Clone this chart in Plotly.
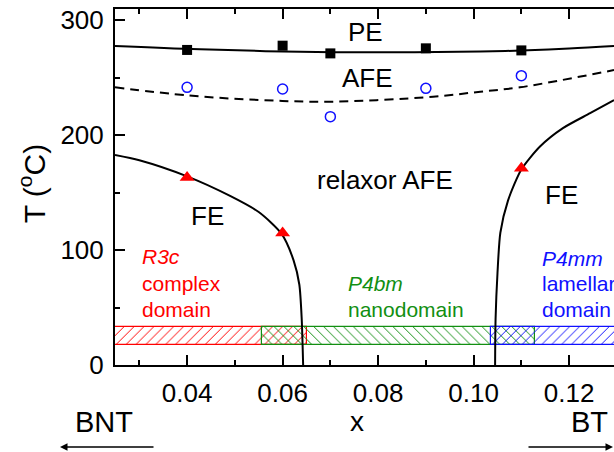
import plotly.graph_objects as go

# ---- data ----
x_pts = [0.04, 0.06, 0.07, 0.09, 0.11]
T_PE = [274, 277.7, 271, 275.4, 273.6]
T_AFE = [241.5, 240, 216, 240.6, 251.6]
x_tri = [0.04, 0.06, 0.11]
T_tri = [163, 114.8, 171]

pe_line_x = [0.0249, 0.0427, 0.0637, 0.0846, 0.1014, 0.1100, 0.1200, 0.1294]
pe_line_T = [277.4, 274.5, 272.4, 271.9, 272.6, 273.5, 275.2, 277.4]

afe_line_x = [0.0249, 0.040, 0.055, 0.070, 0.0915, 0.1014, 0.1097, 0.1294]
afe_line_T = [241.5, 234.5, 230.5, 229.0, 233.3, 237.7, 241.5, 256.5]

fe_left_x = [0.0249, 0.030, 0.040, 0.049, 0.055, 0.0598, 0.0623, 0.0635, 0.0640, 0.0643]
fe_left_T = [182.6, 178, 164, 147, 133, 114, 91, 70, 40, 0]

fe_right_x = [0.1045, 0.1046, 0.1050, 0.1056, 0.1072, 0.1100, 0.1139, 0.1187, 0.1244, 0.1294]
fe_right_T = [0, 40, 80, 115, 143, 170, 190, 206, 219, 230.4]

domain_names = ["R3c", "P4bm", "P4mm"]
domain_start = [0.0249, 0.0556, 0.1036]
domain_end = [0.0651, 0.1129, 0.1400]
domain_colors = ["#ff0000", "#128f12", "#1010ff"]
domain_shapes = ["/", "\\", "/"]
bar_T_center = 25.25
bar_T_height = 15

FONT = "Liberation Sans, Arial, sans-serif"

fig = go.Figure()

for s, e, c, sh in zip(domain_start, domain_end, domain_colors, domain_shapes):
    fig.add_trace(go.Bar(
        orientation="h", y=[bar_T_center], x=[e - s], base=[s], width=bar_T_height,
        marker=dict(color=c, line=dict(color=c, width=1.2),
                    pattern=dict(shape=sh, size=7, solidity=0.14, fillmode="replace")),
        showlegend=False, hoverinfo="skip"))

line_style = dict(color="black", width=2)
fig.add_trace(go.Scatter(x=pe_line_x, y=pe_line_T, mode="lines", line=dict(**line_style, shape="spline"), showlegend=False))
fig.add_trace(go.Scatter(x=afe_line_x, y=afe_line_T, mode="lines", line=dict(color="black", width=2, dash="9px,6px", shape="spline"), showlegend=False))
fig.add_trace(go.Scatter(x=fe_left_x, y=fe_left_T, mode="lines", line=dict(**line_style, shape="spline", smoothing=0.7), showlegend=False))
fig.add_trace(go.Scatter(x=fe_right_x, y=fe_right_T, mode="lines", line=dict(**line_style, shape="spline", smoothing=0.7), showlegend=False))

fig.add_trace(go.Scatter(x=x_pts, y=T_PE, mode="markers", marker=dict(symbol="square", size=10, color="black"), showlegend=False))
fig.add_trace(go.Scatter(x=x_pts, y=T_AFE, mode="markers", marker=dict(symbol="circle-open", size=10, color="#1010ff", line=dict(width=1.5)), showlegend=False))
fig.add_trace(go.Scatter(x=x_tri, y=T_tri, mode="markers", marker=dict(symbol="triangle-up", size=13, color="#ff0000"), showlegend=False))

ann = []
def txt(x, y, t, size, color="black", xanchor="center", xref="x", yref="y", angle=0):
    ann.append(dict(x=x, y=y, text=t, showarrow=False, xref=xref, yref=yref, xanchor=xanchor,
                    yanchor="middle", textangle=angle, font=dict(family=FONT, size=size, color=color)))

# phase labels
txt(0.0773, 289.6, "PE", 26)
txt(0.0777, 249.6, "AFE", 26)
txt(0.0815, 161, "relaxor AFE", 26)
txt(0.0443, 130, "FE", 26)
txt(0.1185, 148, "FE", 26)

# domain labels
dom_size = 21
txt(0.0302, 94, "<i>R3c</i>", dom_size, domain_colors[0], "left")
txt(0.0302, 71, "complex", dom_size, domain_colors[0], "left")
txt(0.0302, 48, "domain", dom_size, domain_colors[0], "left")
txt(0.0733, 71, "<i>P4bm</i>", dom_size, domain_colors[1], "left")
txt(0.0733, 48, "nanodomain", dom_size, domain_colors[1], "left")
txt(0.1138, 93, "<i>P4mm</i>", dom_size, domain_colors[2], "left")
txt(0.1138, 71, "lamellar", dom_size, domain_colors[2], "left")
txt(0.1138, 48, "domain", dom_size, domain_colors[2], "left")

# axis titles & compositions (paper coords)
txt(0.485, -0.160, "x", 28, xref="paper", yref="paper")
txt(-0.022, -0.1615, "BNT", 29, xref="paper", yref="paper")
txt(0.950, -0.160, "BT", 29, xref="paper", yref="paper")
txt(-0.166, 0.508, "T (<sup>o</sup>C)", 30, xref="paper", yref="paper", angle=-90)

# arrows
ann.append(dict(x=-0.1102, y=-0.2303, xref="paper", yref="paper", ax=95, ay=0, text="",
                showarrow=True, arrowhead=2, arrowsize=1, arrowwidth=1.5, arrowcolor="black", standoff=0))
ann.append(dict(x=0.998, y=-0.2303, xref="paper", yref="paper", ax=-86, ay=0, text="",
                showarrow=True, arrowhead=2, arrowsize=1, arrowwidth=1.5, arrowcolor="black", standoff=0))

fig.update_layout(
    width=614, height=452,
    margin=dict(l=115, r=0, t=9, b=87),
    plot_bgcolor="white", paper_bgcolor="white",
    barmode="overlay", bargap=0,
    annotations=ann,
    font=dict(family=FONT, size=26, color="black"),
    xaxis=dict(range=[0.0249, 0.1294], showgrid=False, zeroline=False,
               showline=True, linecolor="black", linewidth=2, mirror="ticks",
               ticks="inside", ticklen=10, tickwidth=1.5, tickcolor="black",
               tick0=0, dtick=0.02, tickformat=".2f",
               tickfont=dict(family=FONT, size=26),
               minor=dict(ticks="inside", ticklen=5, tickwidth=1.5, dtick=0.01, tickcolor="black"),
               ticklabelstandoff=4),
    yaxis=dict(range=[0, 309.6], showgrid=False, zeroline=False,
               showline=True, linecolor="black", linewidth=2, mirror=False,
               ticks="inside", ticklen=10, tickwidth=1.5, tickcolor="black",
               tick0=0, dtick=100,
               tickfont=dict(family=FONT, size=26),
               minor=dict(ticks="inside", ticklen=5, tickwidth=1.5, dtick=50, tickcolor="black"),
               ticklabelstandoff=4),
)

fig.write_html("out.html",
               config={"displayModeBar": False},
               post_script="document.body.style.margin='0';document.body.style.overflow='hidden';")
